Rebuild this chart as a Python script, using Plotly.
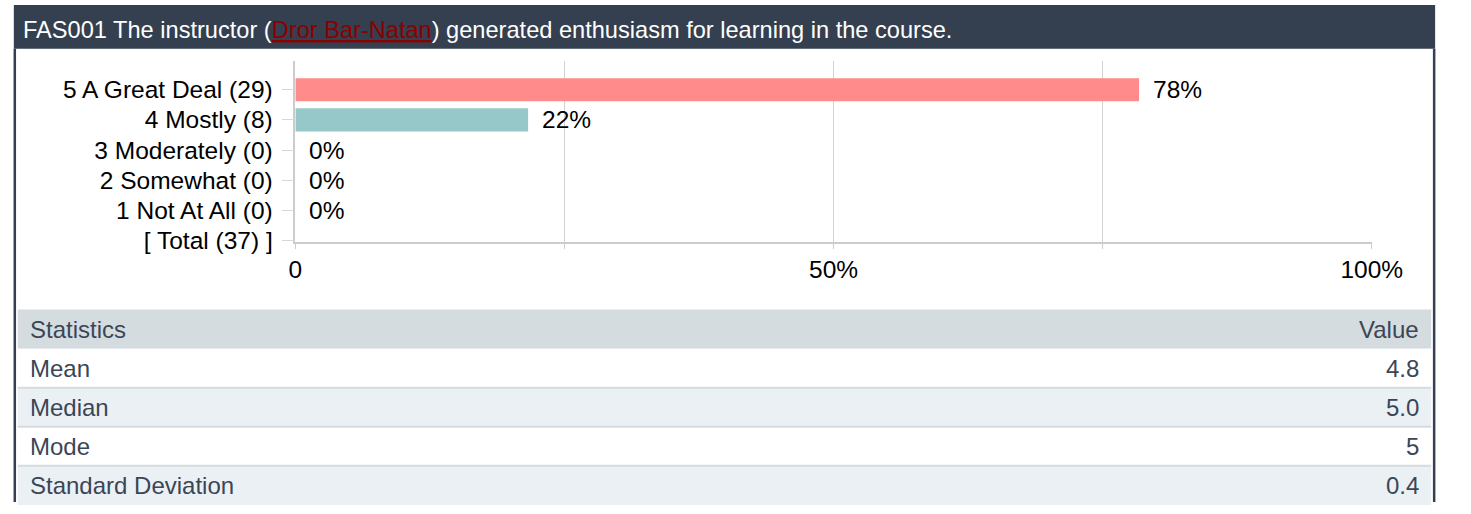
import plotly.graph_objects as go

W, H = 1471, 514

# ---- data ----
title_code = "FAS001"
title_pre = "The instructor ("
title_link = "Dror Bar-Natan"
title_post = ") generated enthusiasm for learning in the course."

categories = ["5 A Great Deal (29)", "4 Mostly (8)", "3 Moderately (0)",
              "2 Somewhat (0)", "1 Not At All (0)", "[ Total (37) ]"]
counts = [29, 8, 0, 0, 0]
total = 37
bar_colors = ["#FF8C8A", "#96C8C9", "#FFD28A", "#B6E3A8", "#A9C6E8"]

x_tickvals = [0, 0.25, 0.5, 0.75, 1.0]
x_ticktext = ["0", "", "50%", "", "100%"]

stat_header = ["Statistics", "Value"]
stat_names = ["Mean", "Median", "Mode", "Standard Deviation"]
stat_values = ["4.8", "5.0", "5", "0.4"]

FONT = "Liberation Sans, Arial, sans-serif"
DARK = "#343F4F"
TXT = "#3B4655"


def px(x):
    return x / W


def py(y):
    return 1 - y / H


fractions = [c / total for c in counts]
labels = [f"{round(100 * f)}%" for f in fractions]

fig = go.Figure()
fig.add_trace(go.Bar(
    y=categories[:len(counts)], x=fractions, orientation="h",
    marker=dict(color=bar_colors, line=dict(width=0)),
    width=0.77, hoverinfo="skip", showlegend=False,
))

annotations = []
for cat, f, lab in zip(categories, fractions, labels):
    annotations.append(dict(
        x=f, y=cat, xref="x", yref="y", text=lab, showarrow=False,
        xanchor="left", yanchor="middle", xshift=12,
        font=dict(family=FONT, size=24.5, color="#000000")))

shapes = []
# header band
shapes.append(dict(type="rect", xref="paper", yref="paper",
                   x0=px(7), x1=px(1466), y0=py(50), y1=py(5),
                   fillcolor=DARK, line=dict(width=0), layer="below"))
# side borders
for bx in (8, 1465):
    shapes.append(dict(type="line", xref="paper", yref="paper",
                       x0=px(bx), x1=px(bx), y0=py(50), y1=py(514),
                       line=dict(color=DARK, width=2.5)))

annotations.append(dict(
    xref="paper", yref="paper", x=px(14), y=py(30.5), xanchor="left", yanchor="middle",
    showarrow=False,
    text=(f"{title_code} {title_pre}"
          f"<span style='color:#8B0000;text-decoration:underline'>{title_link}</span>"
          f"{title_post}"),
    font=dict(family=FONT, size=23.6, color="#FFFFFF")))

# statistics table
tx0, tx1 = 11, 1462
row_top = 317
row_h = 40
rows = [stat_header] + [[n, v] for n, v in zip(stat_names, stat_values)]
fills = ["#D5DCE0"] + ["#FFFFFF" if i % 2 == 0 else "#EBF0F4" for i in range(len(stat_names))]
for i, (row, fill) in enumerate(zip(rows, fills)):
    t = row_top + i * row_h
    shapes.append(dict(type="rect", xref="paper", yref="paper",
                       x0=px(tx0), x1=px(tx1), y0=py(t + row_h), y1=py(t),
                       fillcolor=fill, line=dict(width=0), layer="below"))
    if i >= 2:
        shapes.append(dict(type="line", xref="paper", yref="paper",
                           x0=px(tx0), x1=px(tx1), y0=py(t), y1=py(t),
                           line=dict(color="#D5DCE0", width=2)))
    cy = t + row_h / 2
    annotations.append(dict(xref="paper", yref="paper", x=px(tx0 + 11), y=py(cy),
                            xanchor="left", yanchor="middle", showarrow=False,
                            text=row[0], font=dict(family=FONT, size=24, color=TXT)))
    annotations.append(dict(xref="paper", yref="paper", x=px(tx1 - 11), y=py(cy),
                            xanchor="right", yanchor="middle", showarrow=False,
                            text=row[1], font=dict(family=FONT, size=24, color=TXT)))

fig.update_layout(
    width=W, height=H, margin=dict(l=0, r=0, t=0, b=0),
    paper_bgcolor="#FFFFFF", plot_bgcolor="#FFFFFF",
    shapes=shapes, annotations=annotations,
    bargap=0.2,
    xaxis=dict(domain=[px(296), px(1401)], range=[0, 1], tickvals=x_tickvals,
               ticktext=x_ticktext, showgrid=True, gridcolor="#D3D3D3", gridwidth=1,
               zeroline=False, showline=True, linecolor="#CCCCCC", linewidth=1.5,
               ticks="outside", ticklen=5, tickcolor="#CCCCCC",
               ticklabelstandoff=0,
               tickfont=dict(family=FONT, size=24.5, color="#000000"), fixedrange=True),
    yaxis=dict(domain=[py(248), py(62)], type="category",
               categoryorder="array", categoryarray=categories,
               range=[5.06, -0.97], showgrid=False, zeroline=False,
               showline=True, linecolor="#CCCCCC", linewidth=1.5,
               ticks="outside", ticklen=12, tickcolor="#D8D8D8",
               ticklabelstandoff=4,
               tickfont=dict(family=FONT, size=24.5, color="#000000"), fixedrange=True),
)

fig.write_html(
    "out.html",
    config={"displayModeBar": False},
    post_script=("document.documentElement.style.margin='0';"
                 "document.body.style.margin='0';"
                 "document.body.style.overflow='hidden';"),
)
